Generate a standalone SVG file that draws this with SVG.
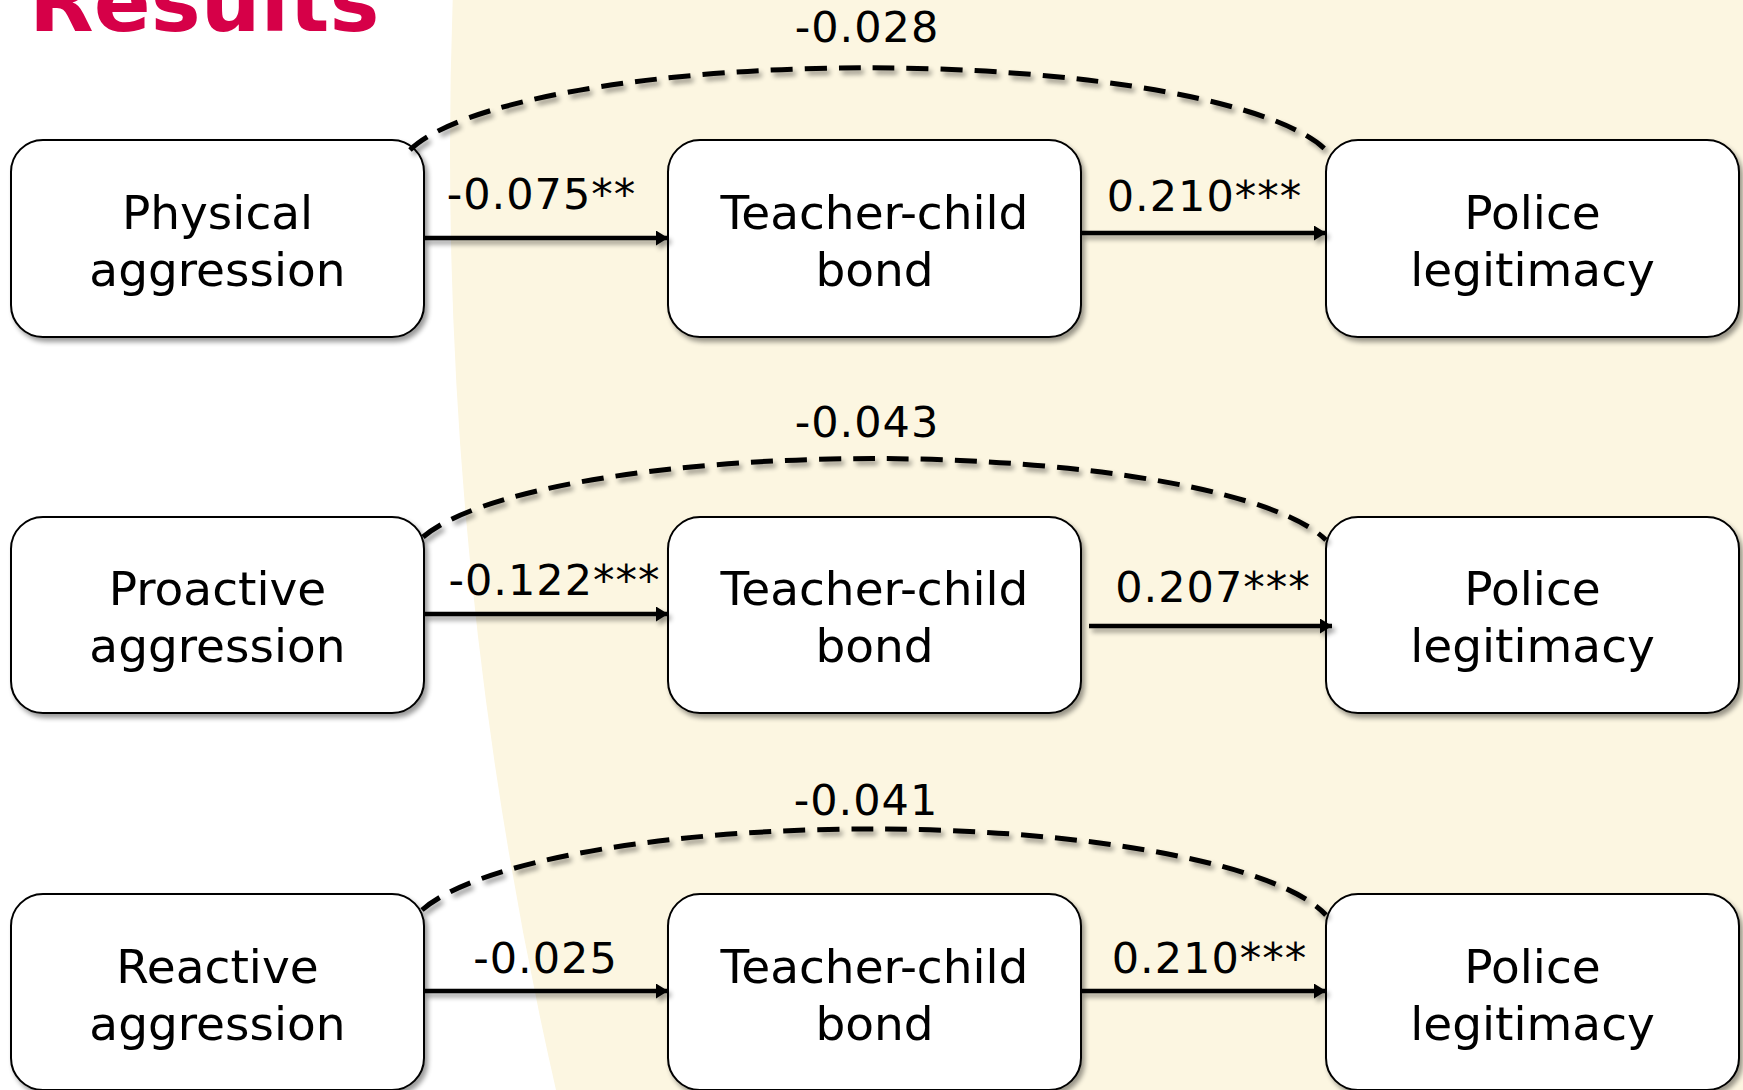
<svg xmlns="http://www.w3.org/2000/svg" width="1743" height="1090" viewBox="0 0 1743 1090">
  <defs>
    <style>
      .box { fill: #ffffff; stroke: #000000; stroke-width: 2; }
      .ntext { font-family: "DejaVu Sans", "Liberation Sans", sans-serif; font-size: 47px; fill: #000000; text-anchor: middle; }
      .elabel { font-family: "DejaVu Sans", "Liberation Sans", sans-serif; font-size: 43px; letter-spacing: 1px; fill: #000000; text-anchor: middle; }
      .arrow { fill: none; stroke: #000000; stroke-width: 4.5; marker-end: url(#head); }
      .dash { fill: none; stroke: #000000; stroke-width: 5; stroke-dasharray: 22 12; }
      .title { font-family: "DejaVu Sans", "Liberation Sans", sans-serif; font-weight: bold; font-size: 84px; fill: #D60048; }
    </style>
    <filter id="shadow" x="-10%" y="-10%" width="130%" height="140%">
      <feGaussianBlur in="SourceAlpha" stdDeviation="2.5"/>
      <feOffset dx="3" dy="4" result="b"/>
      <feComponentTransfer><feFuncA type="linear" slope="0.4"/></feComponentTransfer>
      <feMerge><feMergeNode/><feMergeNode in="SourceGraphic"/></feMerge>
    </filter>
    <marker id="head" markerUnits="userSpaceOnUse" markerWidth="13" markerHeight="15" refX="12" refY="7.5" orient="auto">
      <path d="M0,0 L12,7.5 L0,15 Z" fill="#000000"/>
    </marker>
  </defs>

  <rect x="0" y="0" width="1743" height="1090" fill="#ffffff"/>
  <path d="M452.7 0 A4221 4221 0 0 0 556 1090 L1743 1090 L1743 0 Z" fill="#FCF6E1"/>

  <text class="title" x="29" y="31">Results</text>

  <g id="nodes" filter="url(#shadow)">
    <g id="physical">
      <rect class="box" x="11" y="140" width="413" height="197" rx="32"/>
      <text class="ntext" x="217.5" y="229">Physical</text>
      <text class="ntext" x="217.5" y="286">aggression</text>
    </g>
    <g id="bond1">
      <rect class="box" x="668" y="140" width="413" height="197" rx="32"/>
      <text class="ntext" x="874.5" y="229">Teacher-child</text>
      <text class="ntext" x="874.5" y="286">bond</text>
    </g>
    <g id="police1">
      <rect class="box" x="1326" y="140" width="413" height="197" rx="32"/>
      <text class="ntext" x="1532.5" y="229">Police</text>
      <text class="ntext" x="1532.5" y="286">legitimacy</text>
    </g>

    <g id="proactive">
      <rect class="box" x="11" y="517" width="413" height="196" rx="32"/>
      <text class="ntext" x="217.5" y="605">Proactive</text>
      <text class="ntext" x="217.5" y="662">aggression</text>
    </g>
    <g id="bond2">
      <rect class="box" x="668" y="517" width="413" height="196" rx="32"/>
      <text class="ntext" x="874.5" y="605">Teacher-child</text>
      <text class="ntext" x="874.5" y="662">bond</text>
    </g>
    <g id="police2">
      <rect class="box" x="1326" y="517" width="413" height="196" rx="32"/>
      <text class="ntext" x="1532.5" y="605">Police</text>
      <text class="ntext" x="1532.5" y="662">legitimacy</text>
    </g>

    <g id="reactive">
      <rect class="box" x="11" y="894" width="413" height="196" rx="32"/>
      <text class="ntext" x="217.5" y="983">Reactive</text>
      <text class="ntext" x="217.5" y="1040">aggression</text>
    </g>
    <g id="bond3">
      <rect class="box" x="668" y="894" width="413" height="196" rx="32"/>
      <text class="ntext" x="874.5" y="983">Teacher-child</text>
      <text class="ntext" x="874.5" y="1040">bond</text>
    </g>
    <g id="police3">
      <rect class="box" x="1326" y="894" width="413" height="196" rx="32"/>
      <text class="ntext" x="1532.5" y="983">Police</text>
      <text class="ntext" x="1532.5" y="1040">legitimacy</text>
    </g>
  </g>

  <g id="connectors" filter="url(#shadow)">
    <path class="dash" d="M410 150 A470 106 0 0 1 1327 151"/>
    <path class="arrow" d="M424 238 L668 238"/>
    <path class="arrow" d="M1081 233 L1326 233"/>

    <path class="dash" d="M423 537 A465 105 0 0 1 1326 540"/>
    <path class="arrow" d="M424 614 L668 614"/>
    <path class="arrow" d="M1089 626 L1332 626"/>

    <path class="dash" d="M422 910 A465 109 0 0 1 1326 915"/>
    <path class="arrow" d="M424 991 L668 991"/>
    <path class="arrow" d="M1081 991 L1326 991"/>
  </g>

  <g id="labels">
    <text class="elabel" x="867" y="42">-0.028</text>
    <text class="elabel" x="541.5" y="209">-0.075**</text>
    <text class="elabel" x="1204.5" y="211">0.210***</text>

    <text class="elabel" x="867" y="437">-0.043</text>
    <text class="elabel" x="554.5" y="595">-0.122***</text>
    <text class="elabel" x="1213" y="602">0.207***</text>

    <text class="elabel" x="866" y="815">-0.041</text>
    <text class="elabel" x="545.5" y="973">-0.025</text>
    <text class="elabel" x="1209.5" y="973">0.210***</text>
  </g>
</svg>
